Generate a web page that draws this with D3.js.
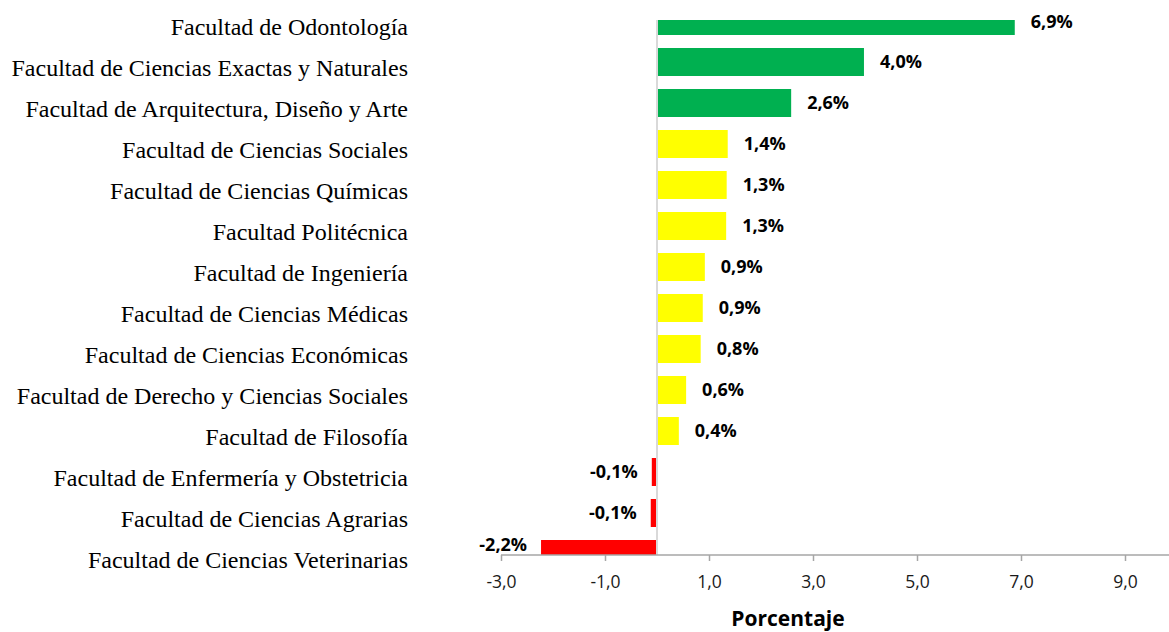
<!DOCTYPE html>
<html><head><meta charset="utf-8">
<script src="https://cdn.jsdelivr.net/npm/d3@7"></script>
<style>body{margin:0;background:#fff}svg{display:block}</style>
</head><body>
<svg id="c" width="1169" height="632"></svg>
<script>
const categories = [
  "Facultad de Odontología",
  "Facultad de Ciencias Exactas y Naturales",
  "Facultad de Arquitectura, Diseño y Arte",
  "Facultad de Ciencias Sociales",
  "Facultad de Ciencias Químicas",
  "Facultad Politécnica",
  "Facultad de Ingeniería",
  "Facultad de Ciencias Médicas",
  "Facultad de Ciencias Económicas",
  "Facultad de Derecho y Ciencias Sociales",
  "Facultad de Filosofía",
  "Facultad de Enfermería y Obstetricia",
  "Facultad de Ciencias Agrarias",
  "Facultad de Ciencias Veterinarias"
];
const values = [6.88, 3.98, 2.58, 1.36, 1.34, 1.33, 0.92, 0.88, 0.84, 0.56, 0.42, -0.1, -0.12, -2.23];
const tickValues = [-3, -1, 1, 3, 5, 7, 9];
const axisTitle = "Porcentaje";

const svg = d3.select("#c");
const plotTop = 20, plotBottom = 555;
const x = d3.scaleLinear().domain([-3, 9]).range([501, 1125]);
const y = d3.scaleBand().domain(categories).range([0.5, 574.5]).paddingInner(13/41).paddingOuter(13/82);
const color = v => v >= 2 ? "#00B050" : (v >= 0 ? "#FFFF00" : "#FF0000");

svg.append("defs").append("clipPath").attr("id","clip")
  .append("rect").attr("x",0).attr("y",plotTop).attr("width",1169).attr("height",plotBottom-plotTop);

// bars
svg.append("g").attr("clip-path","url(#clip)")
  .selectAll("rect").data(values).join("rect")
  .attr("x", d => x(Math.min(0,d)))
  .attr("width", d => Math.abs(x(d)-x(0)))
  .attr("y", (d,i) => y(categories[i]))
  .attr("height", y.bandwidth())
  .attr("fill", d => color(d));

// zero line
svg.append("line").attr("x1",x(0)).attr("x2",x(0)).attr("y1",plotTop).attr("y2",plotBottom)
  .attr("stroke","#d9d9d9").attr("stroke-width",2);

// x axis
const ax = svg.append("g").attr("transform",`translate(0,${plotBottom})`)
  .call(d3.axisBottom(x).tickValues(tickValues).tickSize(6).tickSizeOuter(0)
    .tickFormat(d => d3.format(".1f")(d).replace(".",",").replace("−","-")));
ax.select(".domain").attr("d", `M${x(-3)},0H1169`).attr("stroke","#a6a6a6").attr("stroke-width",1.5);
ax.selectAll(".tick line").attr("stroke","#a6a6a6").attr("stroke-width",1.5);
ax.selectAll(".tick text").attr("y",21).attr("dy","0.71em")
  .attr("font-family","'Open Sans', sans-serif").attr("font-size",17.5).attr("fill","#1a1a1a");

// category labels
svg.append("g").selectAll("text").data(categories).join("text")
  .attr("x",408).attr("y", d => y(d)+y.bandwidth()/2+6)
  .attr("dy","0.35em").attr("text-anchor","end")
  .attr("font-family","'Liberation Serif', 'Times New Roman', serif").attr("font-size",24)
  .attr("fill","#000").text(d => d);

// data labels
svg.append("g").selectAll("text").data(values).join("text")
  .attr("x", d => d >= 0 ? x(d)+16 : x(d)-14)
  .attr("y", (d,i) => Math.max(22, Math.min(545, y(categories[i])+y.bandwidth()/2)))
  .attr("dy","0.35em")
  .attr("text-anchor", d => d >= 0 ? "start" : "end")
  .attr("font-family","'Open Sans', sans-serif").attr("font-weight","bold").attr("font-size",18)
  .attr("fill","#000")
  .text(d => d.toFixed(1).replace(".",",") + "%");

// axis title
svg.append("text").attr("x",788).attr("y",626).attr("text-anchor","middle")
  .attr("font-family","'Open Sans', sans-serif").attr("font-weight","bold").attr("font-size",21)
  .attr("fill","#000").text(axisTitle);
</script>
</body></html>
